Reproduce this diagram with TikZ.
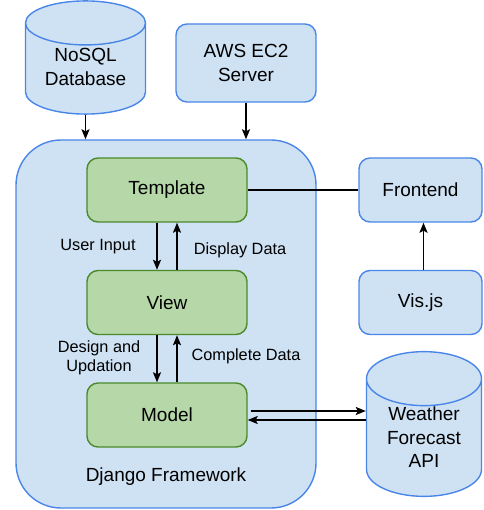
\documentclass[tikz,border=0pt]{standalone}
\usepackage{fontspec}
\setmainfont{Liberation Sans}
\usetikzlibrary{shapes.geometric, arrows.meta}
\definecolor{bluefill}{HTML}{CFE2F3}
\definecolor{blueline}{HTML}{4A86E8}
\definecolor{greenfill}{HTML}{B6D7A8}
\definecolor{greenline}{HTML}{4A8A2A}
\tikzset{>={Stealth[length=10pt, width=8pt, inset=2pt]}}
\tikzset{
  boxtext/.style={font=\fontsize{19}{23.5}\selectfont, align=center},
  smalltext/.style={font=\fontsize{16.3}{19}\selectfont, align=center},
  bluebox/.style={boxtext, draw=blueline, fill=bluefill, line width=1.4pt, rounded corners=11pt},
  greenbox/.style={boxtext, draw=greenline, fill=greenfill, line width=1.4pt, rounded corners=11pt, minimum width=160pt, minimum height=64pt},
  store/.style={boxtext, cylinder, shape border rotate=90, draw=blueline, fill=bluefill, line width=1.4pt, anchor=shape center},
  link/.style={line width=1.6pt}
}
\newcommand{\raisedtext}[2]{\raisebox{#1}[\height][\depth]{\begin{tabular}{@{}c@{}}#2\end{tabular}}}

\begin{document}
\begin{tikzpicture}[x=1pt,y=-1pt]
\useasboundingbox (0,0) rectangle (483,510);
\node (django) [bluebox, rounded corners=45pt, minimum width=300pt, minimum height=368pt] at (166,324) {};
\node (djlabel) [boxtext] at (166,477) {Django Framework};
\node (nosql) [store, aspect=0.5, minimum width=120pt, minimum height=99pt] at (85.5,57.5) {\raisedtext{3.5pt}{NoSQL\\Database}};
\node (aws) [bluebox, minimum width=140pt, minimum height=78pt] at (246,63) {AWS EC2\\Server};
\node (tmpl) [greenbox] at (167,190) {Template};
\node (view) [greenbox] at (167,302.5) {View};
\node (model) [greenbox] at (167,415) {Model};
\node (front) [bluebox, minimum width=123pt, minimum height=64pt] at (420.5,190) {Frontend};
\node (visjs) [bluebox, minimum width=123pt, minimum height=64pt] at (420.5,302.5) {Vis.js};
\node (api) [store, aspect=0.67, inner ysep=0.8pt, minimum width=115pt, minimum height=136pt] at (424,424) {\raisedtext{3pt}{Weather\\Forecast\\API}};
\node (userin) [smalltext] at (98,247) {User Input};
\node (display) [smalltext] at (240,250) {Display Data};
\node (design) [smalltext] at (99,358) {Design and\\Updation};
\node (complete) [smalltext] at (246,356) {Complete Data};
\draw[->, link] (nosql.bottom) -- (nosql.bottom |- django.north);
\draw[->, link] (aws.south) -- (aws.south |- django.north);
\draw[->, link] ([xshift=-10pt]tmpl.south) -- ([xshift=-10pt]view.north);
\draw[->, link] ([xshift=10pt]view.north) -- ([xshift=10pt]tmpl.south);
\draw[->, link] ([xshift=-10pt]view.south) -- ([xshift=-10pt]model.north);
\draw[->, link] ([xshift=10pt]model.north) -- ([xshift=10pt]view.south);
\draw[link] (tmpl.east) -- (front.west);
\draw[->, link] ([xshift=3pt]visjs.north) -- ([xshift=3pt]front.south);
\draw[->, link] ([shift={(3pt,4pt)}]model.east) -- ([yshift=4pt]model.east -| api.west);
\draw[->, link] ([yshift=-5pt]model.east -| api.west) -- ([yshift=-5pt]model.east);
\end{tikzpicture}
\end{document}
